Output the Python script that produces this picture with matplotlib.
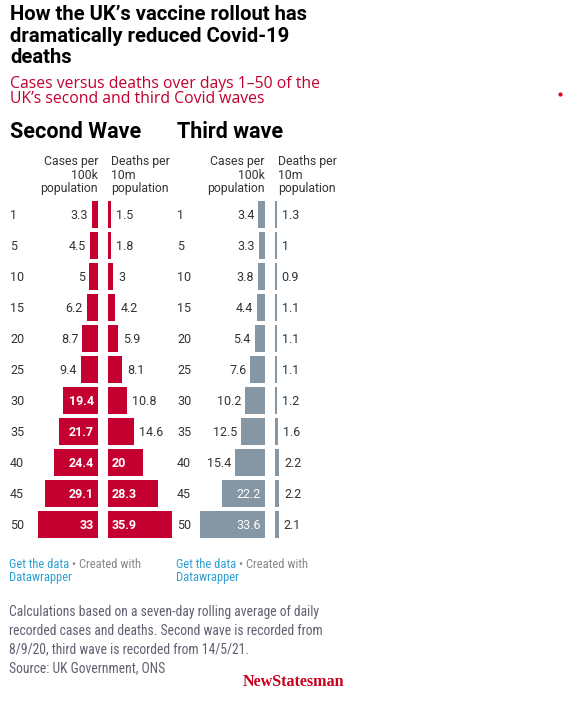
import matplotlib
matplotlib.use("Agg")
import matplotlib.pyplot as plt
from matplotlib import font_manager

# data
days = [1, 5, 10, 15, 20, 25, 30, 35, 40, 45, 50]
second_cases = [3.3, 4.5, 5, 6.2, 8.7, 9.4, 19.4, 21.7, 24.4, 29.1, 33]
second_deaths = [1.5, 1.8, 3, 4.2, 5.9, 8.1, 10.8, 14.6, 20, 28.3, 35.9]
third_cases = [3.4, 3.3, 3.8, 4.4, 5.4, 7.6, 10.2, 12.5, 15.4, 22.2, 33.6]
third_deaths = [1.3, 1, 0.9, 1.1, 1.1, 1.1, 1.2, 1.6, 2.2, 2.2, 2.1]

RED = "#c3002f"
GREY = "#8596a4"
TXT = "#333333"
BLUE = "#2b9fd3"
NOTE = "#5f6070"

names = {f.name for f in font_manager.fontManager.ttflist}
NARROW = "Liberation Sans Narrow" if "Liberation Sans Narrow" in names else "Roboto Condensed"
if NARROW not in names:
    NARROW = "DejaVu Sans"

W, H = 563, 701
fig = plt.figure(figsize=(W / 100, H / 100), dpi=100)
fig.patch.set_facecolor("white")

# overlay axes in pixel units for all loose text
bg = fig.add_axes([0, 0, 1, 1])
bg.set_xlim(0, W)
bg.set_ylim(H, 0)
bg.axis("off")

# title + subtitle
for i, line in enumerate(["How the UK\u2019s vaccine rollout has",
                          "dramatically reduced Covid-19", "deaths"]):
    bg.text(10, 20 + i * 21.5, line, fontsize=14.6, fontweight="bold",
            family="Roboto", color="black", va="baseline")
for i, line in enumerate(["Cases versus deaths over days 1\u201350 of the",
                          "UK\u2019s second and third Covid waves"]):
    bg.text(10, 87.5 + i * 15.5, line, fontsize=11.3, family="Open Sans",
            color=RED, va="baseline")
bg.plot([560], [94], "o", color="#e8001c", markersize=2)

row0 = 214
step = 31


def px_axes(x0, x1, y0, y1):
    return fig.add_axes([x0 / W, 1 - y1 / H, (x1 - x0) / W, (y1 - y0) / H])


def table(x_off, title, cases, deaths, color, cases_right, cases_scale,
          deaths_left, deaths_scale, bold_inside):
    bg.text(x_off + 10, 138.3, title, fontsize=15.5, fontweight="bold",
            family="Roboto", color="black", va="baseline")
    for i, line in enumerate(["Cases per", "100k", "population"]):
        bg.text(cases_right, 165 + i * 13.7, line, fontsize=8.8, family="Roboto",
                color=TXT, ha="right", va="baseline")
    for i, line in enumerate(["Deaths per", "10m", "population"]):
        bg.text(deaths_left + 3, 165 + i * 13.7, line, fontsize=8.8, family="Roboto",
                color=TXT, ha="left", va="baseline")
    for i, d in enumerate(days):
        bg.text(x_off + 10, row0 + i * step, str(d), fontsize=9, family="Roboto",
                color=TXT, va="center_baseline")

    top = row0 - step / 2
    bot = row0 + step * (len(days) - 0.5)
    pos = list(range(len(days)))

    # cases, growing leftwards
    width_c = 75
    axc = px_axes(cases_right - width_c, cases_right, top, bot)
    axc.barh(pos, cases, height=27 / 31, color=color)
    axc.set_xlim(width_c / cases_scale, 0)
    axc.set_ylim(len(days) - 0.5, -0.5)
    axc.axis("off")
    for p, v in zip(pos, cases):
        lab = f"{v:g}"
        if v >= 17:
            axc.annotate(lab, (0, p), xytext=(-4 * 0.72, 0), textcoords="offset points",
                         ha="right", va="center_baseline", color="white", fontsize=9,
                         family="Roboto", fontweight="bold" if bold_inside else "normal")
        else:
            axc.annotate(lab, (v, p), xytext=(-4 * 0.72, 0), textcoords="offset points",
                         ha="right", va="center_baseline", color=TXT, fontsize=9,
                         family="Roboto")

    # deaths, growing rightwards
    width_d = 75
    axd = px_axes(deaths_left, deaths_left + width_d, top, bot)
    axd.barh(pos, deaths, height=27 / 31, color=color)
    axd.set_xlim(0, width_d / deaths_scale)
    axd.set_ylim(len(days) - 0.5, -0.5)
    axd.axis("off")
    for p, v in zip(pos, deaths):
        lab = f"{v:g}"
        if v >= 17:
            axd.annotate(lab, (0, p), xytext=(4 * 0.72, 0), textcoords="offset points",
                         ha="left", va="center_baseline", color="white", fontsize=9,
                         family="Roboto", fontweight="bold" if bold_inside else "normal")
        else:
            axd.annotate(lab, (v, p), xytext=(5 * 0.72, 0), textcoords="offset points",
                         ha="left", va="center_baseline", color=TXT, fontsize=9,
                         family="Roboto")

    # footer credit
    t = bg.text(x_off + 9, 568.3, "Get the data", fontsize=9, family=NARROW,
                color=BLUE, va="baseline")
    bg.annotate(" \u2022 Created with", xycoords=t, xy=(1, 0), va="bottom",
                fontsize=9, family=NARROW, color="#888888")
    bg.text(x_off + 9, 580.7, "Datawrapper", fontsize=9, family=NARROW,
            color=BLUE, va="baseline")


table(0, "Second Wave", second_cases, second_deaths, RED, 98, 1.82, 108, 1.77, True)
table(167, "Third wave", third_cases, third_deaths, GREY, 265, 1.93, 275, 1.8, False)

notes = ["Calculations based on a seven-day rolling average of daily",
         "recorded cases and deaths. Second wave is recorded from",
         "8/9/20, third wave is recorded from 14/5/21.",
         "Source: UK Government, ONS"]
for i, line in enumerate(notes):
    bg.text(9, 616 + i * 18.7, line, fontsize=9.8, family=NARROW, color=NOTE,
            va="baseline")

bg.text(243, 686, "NewStatesman", fontsize=11.6, family="Liberation Serif",
        fontweight="bold", color="#c8001e", va="baseline")

fig.savefig("out.png", dpi=100, facecolor="white")
